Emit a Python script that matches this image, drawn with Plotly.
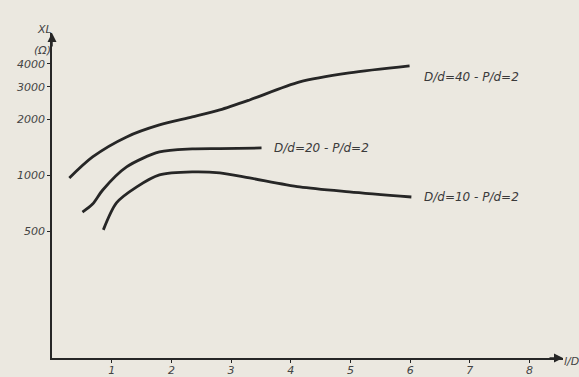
import plotly.graph_objects as go

# l/D values and XL (ohm)
x_40 = [0.29, 0.68, 1.25, 1.80, 2.35, 2.81, 3.31, 4.15, 4.98, 5.99]
y_40 = [968, 1257, 1612, 1870, 2066, 2254, 2551, 3192, 3569, 3894]

x_20 = [0.51, 0.68, 0.85, 1.25, 1.80, 2.35, 2.81, 3.51]
y_20 = [634, 700, 834, 1110, 1337, 1388, 1395, 1405]

x_10 = [0.86, 1.08, 1.42, 1.80, 2.35, 2.81, 3.31, 4.15, 4.98, 6.02]
y_10 = [508, 710, 866, 1005, 1043, 1030, 968, 866, 814, 764]

x_ticks = [1, 2, 3, 4, 5, 6, 7, 8]
y_ticks = [500, 1000, 2000, 3000, 4000]

labels = ["D/d=40 - P/d=2", "D/d=20 - P/d=2", "D/d=10 - P/d=2"]

PAPER = "#ebe8e0"
INK = "#262626"
FONT = dict(family="DejaVu Sans", size=12, color="#3a3a3a", style="italic")
TICKFONT = dict(family="DejaVu Sans", size=11, color="#444444", style="italic")

fig = go.Figure()
for xs, ys in [(x_40, y_40), (x_20, y_20), (x_10, y_10)]:
    fig.add_trace(go.Scatter(x=xs, y=ys, mode="lines",
                             line=dict(color=INK, width=2.8, shape="spline", smoothing=0.8),
                             showlegend=False, hoverinfo="skip"))

# curve labels
fig.add_annotation(x=6.19, y=3.531, text=labels[0], showarrow=False, xanchor="left", font=FONT)
fig.add_annotation(x=3.68, y=3.148, text=labels[1], showarrow=False, xanchor="left", font=FONT)
fig.add_annotation(x=6.19, y=2.883, text=labels[2], showarrow=False, xanchor="left", font=FONT)

fig.update_layout(
    width=579, height=377,
    margin=dict(l=52, r=16, t=33, b=19, autoexpand=False),
    paper_bgcolor=PAPER, plot_bgcolor=PAPER,
    font=FONT,
    xaxis=dict(range=[0, 8.56], tickvals=x_ticks, ticks="outside", ticklen=3, tickcolor=INK,
               showline=True, linecolor=INK, linewidth=1.5, showgrid=False, zeroline=False,
               tickfont=TICKFONT, ticklabelstandoff=-2, automargin=False),
    yaxis=dict(type="log", range=[2.0145, 3.768], tickvals=y_ticks, ticktext=[str(v) for v in y_ticks],
               ticks="outside", ticklen=3, tickcolor=INK, showline=True, linecolor=INK, linewidth=1.5,
               showgrid=False, zeroline=False, tickfont=TICKFONT, automargin=False),
)

# axis arrows and titles
fig.add_annotation(xref="paper", yref="paper", x=1.0, y=0, ax=-15, ay=0,
                   showarrow=True, arrowhead=2, arrowsize=1.2, arrowwidth=1.5, arrowcolor=INK, text="")
fig.add_annotation(xref="paper", yref="paper", x=0, y=1.0, ax=0, ay=15,
                   showarrow=True, arrowhead=2, arrowsize=1.2, arrowwidth=1.5, arrowcolor=INK, text="")
fig.add_annotation(xref="paper", yref="paper", x=1.0, y=0, xshift=-1, yshift=-12,
                   xanchor="left", text="l/D", showarrow=False, font=TICKFONT)
fig.add_annotation(xref="paper", yref="paper", x=0, y=1.0, xshift=-17, yshift=12,
                   text="XL", showarrow=False, font=TICKFONT)
fig.add_annotation(xref="paper", yref="paper", x=0, y=1.0, xshift=-20, yshift=-9,
                   text="(Ω)", showarrow=False, font=TICKFONT)

fig.write_html("out.html", config={"displayModeBar": False},
               post_script="document.body.style.margin='0';")
